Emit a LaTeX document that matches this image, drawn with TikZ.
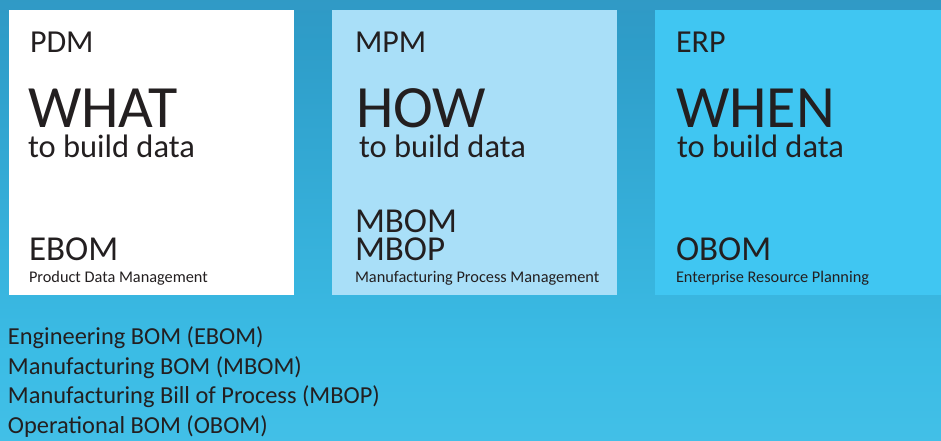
\documentclass[tikz,border=0pt]{standalone}
\usepackage{fontspec}
\setmainfont{Carlito}
\definecolor{bgtop}{HTML}{3A88B3}
\definecolor{bgmidA}{HTML}{2E9DC9}
\definecolor{bgmidB}{HTML}{3BBCE5}
\definecolor{bgbot}{HTML}{53C8EC}
\definecolor{mpmfill}{HTML}{A9DFF8}
\definecolor{erpfill}{HTML}{40C6F2}
\definecolor{txt}{HTML}{231F20}
\pgfdeclareverticalshading{bgshade}{100bp}{
  color(0bp)=(bgbot); color(35bp)=(bgmidB); color(70bp)=(bgmidA); color(100bp)=(bgtop)}
\tikzset{
  lbl/.style={anchor=base west, inner sep=0pt, outer sep=0pt, text=txt},
  fsys/.style={lbl, font=\fontsize{32}{38}\selectfont},
  fbig/.style={lbl, font=\fontsize{60}{70}\selectfont},
  fsub/.style={lbl, font=\fontsize{32.5}{38}\selectfont},
  fbom/.style={lbl, font=\fontsize{35}{40}\selectfont},
  fsmall/.style={lbl, font=\fontsize{16.3}{19}\selectfont},
  flist/.style={lbl, font=\fontsize{24.4}{29}\selectfont},
}
\begin{document}
\begin{tikzpicture}[x=1pt,y=-1pt]
\useasboundingbox (0,0) rectangle (941,441);
\shade[shading=bgshade] (0,0) rectangle (941,441);
% boxes
\fill[white] (9,10) rectangle (294,295);
\fill[mpmfill] (332,10) rectangle (617,295);
\fill[erpfill] (655,10) rectangle (941,295);
% PDM
\node[fsys] (pdm) at (30,53) {PDM};
\node[fbig] (what) at (28,127) {WHAT};
\node[fsub] (pdmsub) at (28,157) {to build data};
\node[fbom] (ebom) at (29,260) {EBOM};
\node[fsmall] (pdmname) at (29,282) {Product Data Management};
% MPM
\node[fsys] (mpm) at (355,53) {MPM};
\node[fbig] (how) at (356,127) {HOW};
\node[fsub] (mpmsub) at (359,157) {to build data};
\node[fbom] (mbom) at (355,232) {MBOM};
\node[fbom] (mbop) at (355,260) {MBOP};
\node[fsmall] (mpmname) at (355,282) {Manufacturing Process Management};
% ERP
\node[fsys] (erp) at (676,53) {ERP};
\node[fbig] (when) at (676,127) {WHEN};
\node[fsub] (erpsub) at (677,157) {to build data};
\node[fbom] (obom) at (676,260) {OBOM};
\node[fsmall] (erpname) at (676,282) {Enterprise Resource Planning};
% legend
\node[flist] (l1) at (8,344) {Engineering BOM (EBOM)};
\node[flist] (l2) at (8,374) {Manufacturing BOM (MBOM)};
\node[flist] (l3) at (8,403) {Manufacturing Bill of Process (MBOP)};
\node[flist] (l4) at (8,433) {Operational BOM (OBOM)};
\end{tikzpicture}
\end{document}
